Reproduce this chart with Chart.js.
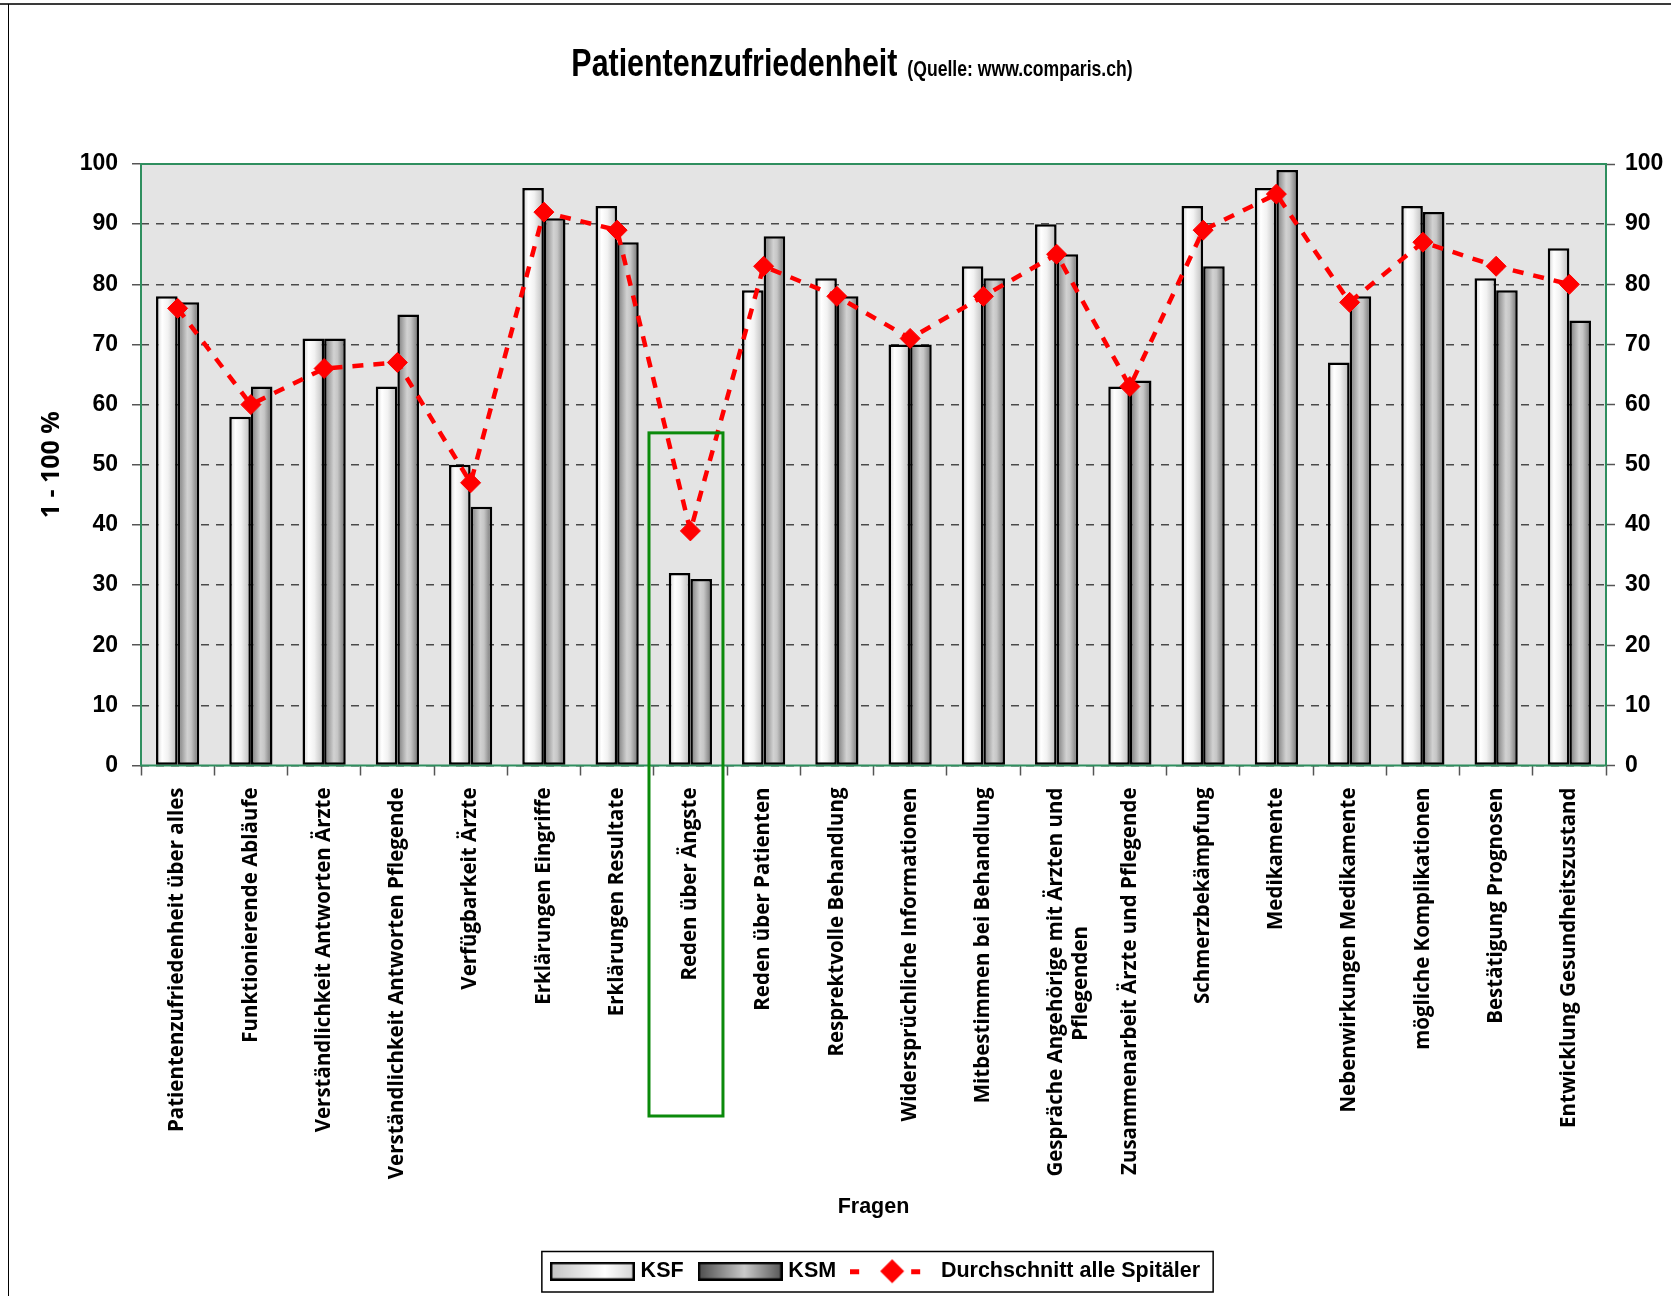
<!DOCTYPE html>
<html>
<head>
<meta charset="utf-8">
<title>Patientenzufriedenheit</title>
<script src="https://cdn.jsdelivr.net/npm/chart.js@4.4.1/dist/chart.umd.min.js"></script>
<style>
  html, body { margin: 0; padding: 0; background: #fff; overflow: hidden; }
  #wrap { width: 1671px; height: 1296px; }
  canvas { display: block; }
</style>
</head>
<body>
<div id="wrap"><canvas id="chart" width="1671" height="1296"></canvas></div>
<script>
// questions on the x axis (the long one is split in two lines)
const categories = [
    "Patientenzufriedenheit über alles",
    "Funktionierende Abläufe",
    "Verständlichkeit Antworten Ärzte",
    "Verständlichkeit Antworten Pflegende",
    "Verfügbarkeit Ärzte",
    "Erklärungen Eingriffe",
    "Erklärungen Resultate",
    "Reden über Ängste",
    "Reden über Patienten",
    "Resprektvolle Behandlung",
    "Widersprüchliche Informationen",
    "Mitbestimmen bei Behandlung",
    ["Gespräche Angehörige mit Ärzten und", "Pflegenden" + " ".repeat(26)],
    "Zusammenarbeit Ärzte und Pflegende",
    "Schmerzbekämpfung",
    "Medikamente",
    "Nebenwirkungen Medikamente",
    "mögliche Komplikationen",
    "Bestätigung Prognosen",
    "Entwicklung Gesundheitszustand"
];

const ksf = [78, 58, 71, 63, 50, 96, 93, 32, 79, 81, 70, 83, 90, 63, 93, 96, 67, 93, 81, 86];
const ksm = [77, 63, 71, 75, 43, 91, 87, 31, 88, 78, 70, 81, 85, 64, 83, 99, 78, 92, 79, 74];
const durchschnitt = [76, 60, 66, 67, 47, 92, 89, 39, 83, 78, 71, 78, 85, 63, 89, 95, 77, 87, 83, 80];

const highlightIndex = 7;   // "Reden über Ängste"
const highlightTop = 55.3;

const titleMain = "Patientenzufriedenheit";
const titleSource = "(Quelle: www.comparis.ch)";

const SANS = "'Liberation Sans', Arial, sans-serif";
const CAT_PCT = 0.59;

const ksfStops = [[0, "#cdcdcd"], [0.28, "#ffffff"], [0.55, "#f2f2f2"], [1, "#b9b9b9"]];
const ksmStops = [[0, "#777777"], [0.45, "#d2d2d2"], [0.62, "#c6c6c6"], [1, "#6b6b6b"]];

function barFill(stops, side) {
    return function (c) {
        const xs = c.chart.scales.x;
        if (c.type !== "data" || !xs) return stops[1][1];
        const w = xs.width / categories.length * CAT_PCT / 2;
        const center = xs.getPixelForValue(c.dataIndex);
        const x0 = side < 0 ? center - w : center;
        const g = c.chart.ctx.createLinearGradient(x0, 0, x0 + w, 0);
        stops.forEach(s => g.addColorStop(s[0], s[1]));
        return g;
    };
}

function swatch(stops) {
    const cv = document.createElement("canvas");
    cv.width = 85; cv.height = 19;
    const g = cv.getContext("2d");
    const grad = g.createLinearGradient(0, 0, 85, 0);
    stops.forEach(s => grad.addColorStop(s[0], s[1]));
    g.fillStyle = grad;
    g.fillRect(0, 0, 85, 19);
    g.strokeStyle = "#000";
    g.lineWidth = 2.5;
    g.strokeRect(1.25, 1.25, 82.5, 16.5);
    return cv;
}

function lineSample() {
    const cv = document.createElement("canvas");
    cv.width = 85; cv.height = 26;
    const g = cv.getContext("2d");
    g.fillStyle = "#ff0000";
    g.fillRect(0, 11, 9, 5);
    g.fillRect(61, 11, 9, 5);
    g.beginPath();
    g.moveTo(30, 13); g.lineTo(42, 1); g.lineTo(54, 13); g.lineTo(42, 25);
    g.closePath();
    g.fill();
    return cv;
}

const legendItems = [
    { text: "KSF", pointStyle: swatch([[0, "#c2c2c2"], [0.65, "#ffffff"], [1, "#d4d4d4"]]), datasetIndex: 0 },
    { text: "KSM", pointStyle: swatch([[0, "#4a4a4a"], [0.55, "#cacaca"], [1, "#555555"]]), datasetIndex: 1 },
    { text: "Durchschnitt alle Spitäler", pointStyle: lineSample(), datasetIndex: 2 }
].map(it => Object.assign(it, { hidden: false, fillStyle: "#fff", strokeStyle: "#000", lineWidth: 0, fontColor: "#000" }));

// draws condensed bold text by squeezing the glyphs horizontally
function narrowText(ctx, text, x, y, size, squeeze) {
    ctx.save();
    ctx.font = "bold " + size + "px " + SANS;
    ctx.translate(x, y);
    ctx.scale(squeeze, 1);
    ctx.fillText(text, 0, 0);
    ctx.restore();
}

const decor = {
    id: "decor",
    afterLayout(chart) {
        const lg = chart.legend;
        lg.left += 40; lg.right += 40;
        lg.top -= 4; lg.bottom -= 4;
    },
    beforeDraw(chart) {
        const { ctx, chartArea: a } = chart;
        ctx.save();
        ctx.fillStyle = "#fff";
        ctx.fillRect(0, 0, chart.width, chart.height);
        ctx.fillStyle = "#e4e4e4";
        ctx.fillRect(a.left, a.top, a.right - a.left, a.bottom - a.top);

        // outer frame of the original sheet
        ctx.strokeStyle = "#3a3a3a";
        ctx.lineWidth = 2;
        ctx.beginPath(); ctx.moveTo(0, 4); ctx.lineTo(chart.width, 4); ctx.stroke();
        ctx.strokeStyle = "#000";
        ctx.lineWidth = 1;
        ctx.beginPath(); ctx.moveTo(8.5, 4); ctx.lineTo(8.5, chart.height); ctx.stroke();

        // title, two sizes on one baseline
        const sq = 0.8;
        ctx.fillStyle = "#000";
        ctx.textBaseline = "alphabetic";
        ctx.textAlign = "left";
        ctx.font = "bold 38px " + SANS;
        const w1 = ctx.measureText(titleMain).width * sq;
        ctx.font = "bold 22px " + SANS;
        const w2 = ctx.measureText(titleSource).width * sq;
        const x0 = 852 - (w1 + 10 + w2) / 2;
        narrowText(ctx, titleMain, x0, 76, 38, sq);
        narrowText(ctx, titleSource, x0 + w1 + 10, 76, 22, sq);
        ctx.restore();
    },
    beforeDatasetsDraw(chart) {
        const { ctx, chartArea: a } = chart;
        ctx.save();
        ctx.strokeStyle = "#2f8f5f";
        ctx.lineWidth = 2;
        ctx.strokeRect(a.left, a.top, a.right - a.left, a.bottom - a.top);
        ctx.restore();
    },
    afterDraw(chart) {
        const { ctx } = chart;
        const xs = chart.scales.x, ys = chart.scales.y;
        const catW = xs.width / categories.length;
        const c = xs.getPixelForValue(highlightIndex);
        const top = ys.getPixelForValue(highlightTop);
        ctx.save();
        ctx.strokeStyle = "#0b8a0b";
        ctx.lineWidth = 3;
        ctx.strokeRect(c - 0.565 * catW, top, 1.01 * catW, 1116 - top);

        // box round the legend
        const hb = chart.legend.legendHitBoxes;
        if (hb && hb.length) {
            const last = hb[hb.length - 1];
            const l = hb[0].left - 13, r = last.left + last.width + 13;
            const t = hb[0].top - 9, b = hb[0].top + hb[0].height + 10;
            ctx.strokeStyle = "#000";
            ctx.lineWidth = 1.5;
            ctx.strokeRect(l, t, r - l, b - t);
        }
        ctx.restore();
    }
};

const tickFont = { family: SANS, weight: "bold", size: 23 };

new Chart(document.getElementById("chart"), {
    type: "bar",
    data: {
        labels: categories,
        datasets: [
            {
                label: "KSF",
                data: ksf,
                backgroundColor: barFill(ksfStops, -1),
                borderColor: "#000",
                borderWidth: 2.5,
                borderSkipped: false,
                categoryPercentage: CAT_PCT,
                barPercentage: 1.0,
                order: 1
            },
            {
                label: "KSM",
                data: ksm,
                backgroundColor: barFill(ksmStops, 1),
                borderColor: "#000",
                borderWidth: 2.5,
                borderSkipped: false,
                categoryPercentage: CAT_PCT,
                barPercentage: 1.0,
                order: 1
            },
            {
                type: "line",
                label: "Durchschnitt alle Spitäler",
                data: durchschnitt,
                borderColor: "#ff0000",
                backgroundColor: "#ff0000",
                borderWidth: 4.5,
                borderDash: [11, 10],
                pointStyle: "rectRot",
                pointRadius: 10,
                pointHoverRadius: 10,
                pointBorderWidth: 1,
                tension: 0,
                fill: false,
                order: 0
            }
        ]
    },
    options: {
        responsive: false,
        animation: false,
        events: [],
        layout: { padding: { top: 164, left: 10, right: 6, bottom: 0 } },
        plugins: {
            tooltip: { enabled: false },
            title: { display: false },
            legend: {
                position: "bottom",
                labels: {
                    usePointStyle: true,
                    pointStyleWidth: 75,
                    padding: 19,
                    color: "#000",
                    font: { family: SANS, weight: "bold", size: 21.5 },
                    generateLabels: () => legendItems
                }
            }
        },
        scales: {
            x: {
                offset: true,
                grid: { offset: true, drawOnChartArea: false, tickLength: 10, tickColor: "#555", tickWidth: 1.5 },
                border: { display: false },
                ticks: {
                    autoSkip: false,
                    maxRotation: 90,
                    minRotation: 90,
                    padding: 12,
                    color: "#000",
                    font: { family: "'Open Sans', sans-serif", weight: "bold", size: 20.5 }
                },
                title: {
                    display: true,
                    text: "Fragen",
                    color: "#000",
                    font: { family: SANS, weight: "bold", size: 21.5 },
                    padding: { top: 0, bottom: 25.5 }
                },
                afterFit(s) { s.height = 480; }
            },
            y: {
                min: 0,
                max: 100,
                ticks: { stepSize: 10, padding: 14, color: "#000", font: tickFont },
                grid: { color: "#4a4a4a", lineWidth: 1.5, tickLength: 9, tickColor: "#555", tickWidth: 1.5 },
                border: { display: false, dash: [8, 7] },
                title: {
                    display: true,
                    text: "1 - 100 %",
                    color: "#000",
                    font: { family: "'Open Sans', sans-serif", weight: "bold", size: 25 },
                    padding: { top: 27, bottom: 0 }
                },
                afterFit(s) { s.width = 131; }
            },
            y2: {
                position: "right",
                min: 0,
                max: 100,
                ticks: { stepSize: 10, padding: 10, color: "#000", font: tickFont },
                grid: { drawOnChartArea: false, tickLength: 9, tickColor: "#555", tickWidth: 1.5 },
                border: { display: false },
                afterFit(s) { s.width = 59; }
            }
        }
    },
    plugins: [decor]
});
</script>
</body>
</html>
